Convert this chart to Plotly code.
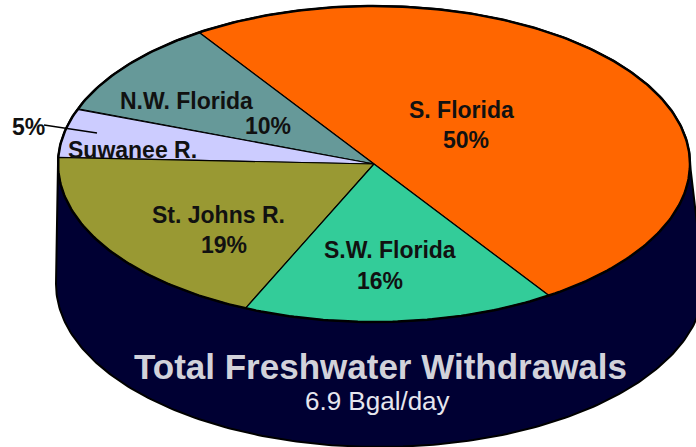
import numpy as np
import plotly.graph_objects as go

# ---- data ----
regions = ["S. Florida", "N.W. Florida", "Suwanee R.", "St. Johns R.", "S.W. Florida"]
shares = [50, 10, 5, 19, 16]
title_text = "Total Freshwater Withdrawals"
total_text = "6.9 Bgal/day"

# ---- style ----
slice_colors = ["#FF6600", "#669999", "#CCCCFF", "#999933", "#33CC99"]
side_color = "#000033"
W, H = 696, 447
CX, CY, RX, RY = 374, 164, 316, 158          # top face ellipse (pixel space)
BX, BY, BRX, BRY = 380, 284, 324, 163        # bottom rim ellipse
START_DEG = -56.4                            # first slice starts here, counter-clockwise

def ell(cx, cy, rx, ry, t):
    return cx + rx * np.cos(t), cy - ry * np.sin(t)

fig = go.Figure()

# side (visible front half of the cylinder)
tb = np.radians(np.linspace(180, 360, 200))
tt = np.radians(np.linspace(0, 180, 200))
xb, yb = ell(BX, BY, BRX, BRY, tb)
xt, yt = ell(CX, CY, RX, RY, tt)
fig.add_trace(go.Scatter(
    x=np.concatenate([xb, xt, xb[:1]]), y=np.concatenate([yb, yt, yb[:1]]),
    fill="toself", fillcolor=side_color, mode="lines",
    line=dict(color="black", width=2), hoverinfo="skip"))

# slices on the top face
total = sum(shares)
a0 = START_DEG
for name, v, c in zip(regions, shares, slice_colors):
    a1 = a0 + 360.0 * v / total
    t = np.radians(np.linspace(a0, a1, 120))
    ax, ay = ell(CX, CY, RX, RY, t)
    fig.add_trace(go.Scatter(
        x=np.concatenate([[CX], ax, [CX]]), y=np.concatenate([[CY], ay, [CY]]),
        fill="toself", fillcolor=c, mode="lines",
        line=dict(color="black", width=1.2), name=name, hoverinfo="name"))
    a0 = a1

# rim outline of top face
tr = np.radians(np.linspace(0, 360, 400))
rx_, ry_ = ell(CX, CY, RX, RY, tr)
fig.add_trace(go.Scatter(x=rx_, y=ry_, mode="lines",
                         line=dict(color="black", width=2.5), hoverinfo="skip"))

# labels (name position, percent position)
label_pos = {
    "S. Florida": ((461, 110), (466, 140)),
    "N.W. Florida": ((186, 101), (268, 126)),
    "Suwanee R.": ((132, 150), (28, 127)),
    "St. Johns R.": ((218, 215), (224, 245)),
    "S.W. Florida": ((390, 250), (380, 281)),
}
font_lbl = dict(family="Arial, Liberation Sans, sans-serif", size=23, color="#111111")
for name, v in zip(regions, shares):
    (nx, ny), (px, py) = label_pos[name]
    fig.add_annotation(x=nx, y=ny, text=f"<b>{name}</b>", showarrow=False,
                       font=font_lbl, xanchor="center", yanchor="middle")
    fig.add_annotation(x=px, y=py, text=f"<b>{v}%</b>", showarrow=False,
                       font=font_lbl, xanchor="center", yanchor="middle")

# leader line for the small slice
fig.add_shape(type="line", x0=44, y0=125, x1=97, y1=133,
              line=dict(color="black", width=1.5))

fig.add_annotation(x=380, y=366, text=f"<b>{title_text}</b>", showarrow=False,
                   font=dict(family="Arial, Liberation Sans, sans-serif", size=35, color="#D2D2DA"),
                   xanchor="center", yanchor="middle")
fig.add_annotation(x=377, y=401, text=total_text, showarrow=False,
                   font=dict(family="Arial, Liberation Sans, sans-serif", size=26, color="#E6E6EE"),
                   xanchor="center", yanchor="middle")

fig.update_layout(
    width=W, height=H, margin=dict(l=0, r=0, t=0, b=0),
    paper_bgcolor="white", plot_bgcolor="white", showlegend=False,
    xaxis=dict(range=[0, W], visible=False, fixedrange=True),
    yaxis=dict(range=[H, 0], visible=False, fixedrange=True),
)
fig.write_html("out.html", config={"displayModeBar": False},
               post_script="document.body.style.margin='0';document.body.style.overflow='hidden';")
